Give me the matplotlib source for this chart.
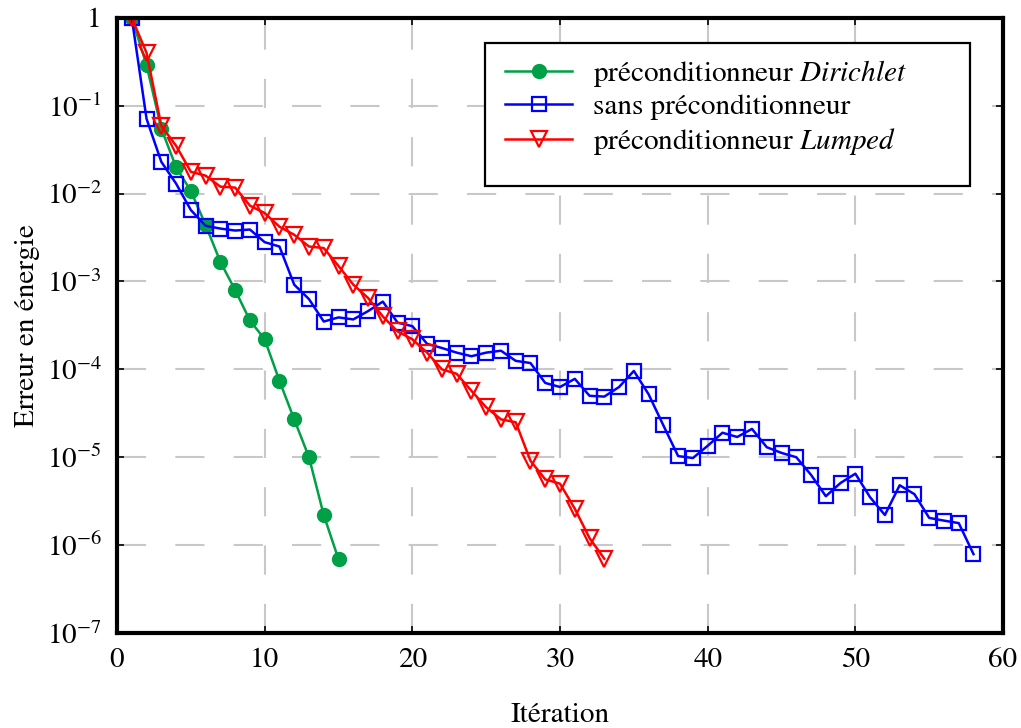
import matplotlib
matplotlib.use("Agg")
import matplotlib.pyplot as plt
from matplotlib.patches import Rectangle

# --- Données ---
iter_dirichlet = list(range(1, 16))
err_dirichlet = [1.0, 0.29, 0.055, 0.020, 0.0107, 0.0044, 0.00167, 0.00080,
                 0.00036, 0.00022, 7.4e-5, 2.7e-5, 1.0e-5, 2.2e-6, 6.9e-7]

iter_sans = list(range(1, 59))
err_sans = [1.0, 0.071, 0.023, 0.013, 0.0065, 0.0043, 0.0040, 0.0038, 0.0039,
            0.0028, 0.0025, 0.00092, 0.00063, 0.00035, 0.00039, 0.00037,
            0.00046, 0.00059, 0.00034, 0.00031, 0.000195, 0.000175, 0.000155,
            0.000141, 0.000155, 0.000163, 0.000125, 0.000118, 7.0e-5, 6.3e-5,
            7.8e-5, 5.0e-5, 4.9e-5, 6.3e-5, 9.6e-5, 5.2e-5, 2.3e-5, 1.03e-5,
            9.8e-6, 1.35e-5, 1.9e-5, 1.7e-5, 2.1e-5, 1.3e-5, 1.12e-5, 1.0e-5,
            6.3e-6, 3.6e-6, 5.1e-6, 6.5e-6, 3.5e-6, 2.2e-6, 4.8e-6, 3.8e-6,
            2.04e-6, 1.9e-6, 1.78e-6, 7.9e-7]

iter_lumped = list(range(1, 34))
err_lumped = [1.0, 0.40, 0.059, 0.035, 0.0177, 0.016, 0.012, 0.0117, 0.0073,
              0.0060, 0.0042, 0.0034, 0.0025, 0.0024, 0.0015, 0.00092,
              0.00065, 0.00040, 0.00027, 0.00022, 0.000155, 0.0001, 8.9e-5,
              5.7e-5, 3.7e-5, 2.7e-5, 2.5e-5, 9.1e-6, 5.6e-6, 5.0e-6, 2.6e-6,
              1.2e-6, 7.0e-7]

labels = [r"préconditionneur $\mathit{Dirichlet}$",
          "sans préconditionneur",
          r"préconditionneur $\mathit{Lumped}$"]
xticks = [0, 10, 20, 30, 40, 50, 60]
yticks = [1e-7, 1e-6, 1e-5, 1e-4, 1e-3, 1e-2, 1e-1, 1]
ytick_labels = [r"$10^{-7}$", r"$10^{-6}$", r"$10^{-5}$", r"$10^{-4}$",
                r"$10^{-3}$", r"$10^{-2}$", r"$10^{-1}$", "1"]

# --- Style ---
plt.rcParams['font.family'] = ['STIXGeneral', 'DejaVu Serif']
plt.rcParams['mathtext.fontset'] = 'stix'
FS = 21

fig = plt.figure(figsize=(10.21, 7.28), dpi=100)
ax = fig.add_axes([0.1146, 0.1305, 0.8678, 0.845])

ax.plot(iter_dirichlet, err_dirichlet, color='#00a046', lw=1.8,
        marker='o', ms=10, label=labels[0])
ax.plot(iter_sans, err_sans, color='#0000ff', lw=1.8, marker='s', ms=9.5,
        mfc='none', mew=1.6, label=labels[1])
ax.plot(iter_lumped, err_lumped, color='#ff0000', lw=1.8, marker='v', ms=12,
        mfc='none', mew=1.6, label=labels[2])

ax.set_yscale('log')
ax.set_xlim(0, 60)
ax.set_ylim(1e-7, 1.0)
ax.set_xticks(xticks)
ax.set_yticks(yticks)
ax.set_yticklabels(ytick_labels)
ax.minorticks_off()
ax.tick_params(direction='in', length=5, width=1.2, labelsize=FS,
               right=True, top=True, pad=11)
ax.grid(True, color='#c8c8c8', lw=1.5, linestyle=(0, (14, 14)))
for s in ax.spines.values():
    s.set_linewidth(3)

ax.set_xlabel("Itération", fontsize=FS, labelpad=21)
ax.set_ylabel("Erreur en énergie", fontsize=FS, labelpad=5)

# --- Légende ---
ax.add_patch(Rectangle((0.415, 0.727), 0.548, 0.232, transform=ax.transAxes,
                       facecolor='white', edgecolor='black', lw=1.6, zorder=5))
leg = ax.legend(loc='upper left', bbox_to_anchor=(0.438, 0.935), frameon=False,
                fontsize=FS, handlelength=2.3, handletextpad=0.72,
                labelspacing=0.18, borderpad=0, borderaxespad=0)
leg.set_zorder(6)

fig.savefig("out.png", dpi=100)
